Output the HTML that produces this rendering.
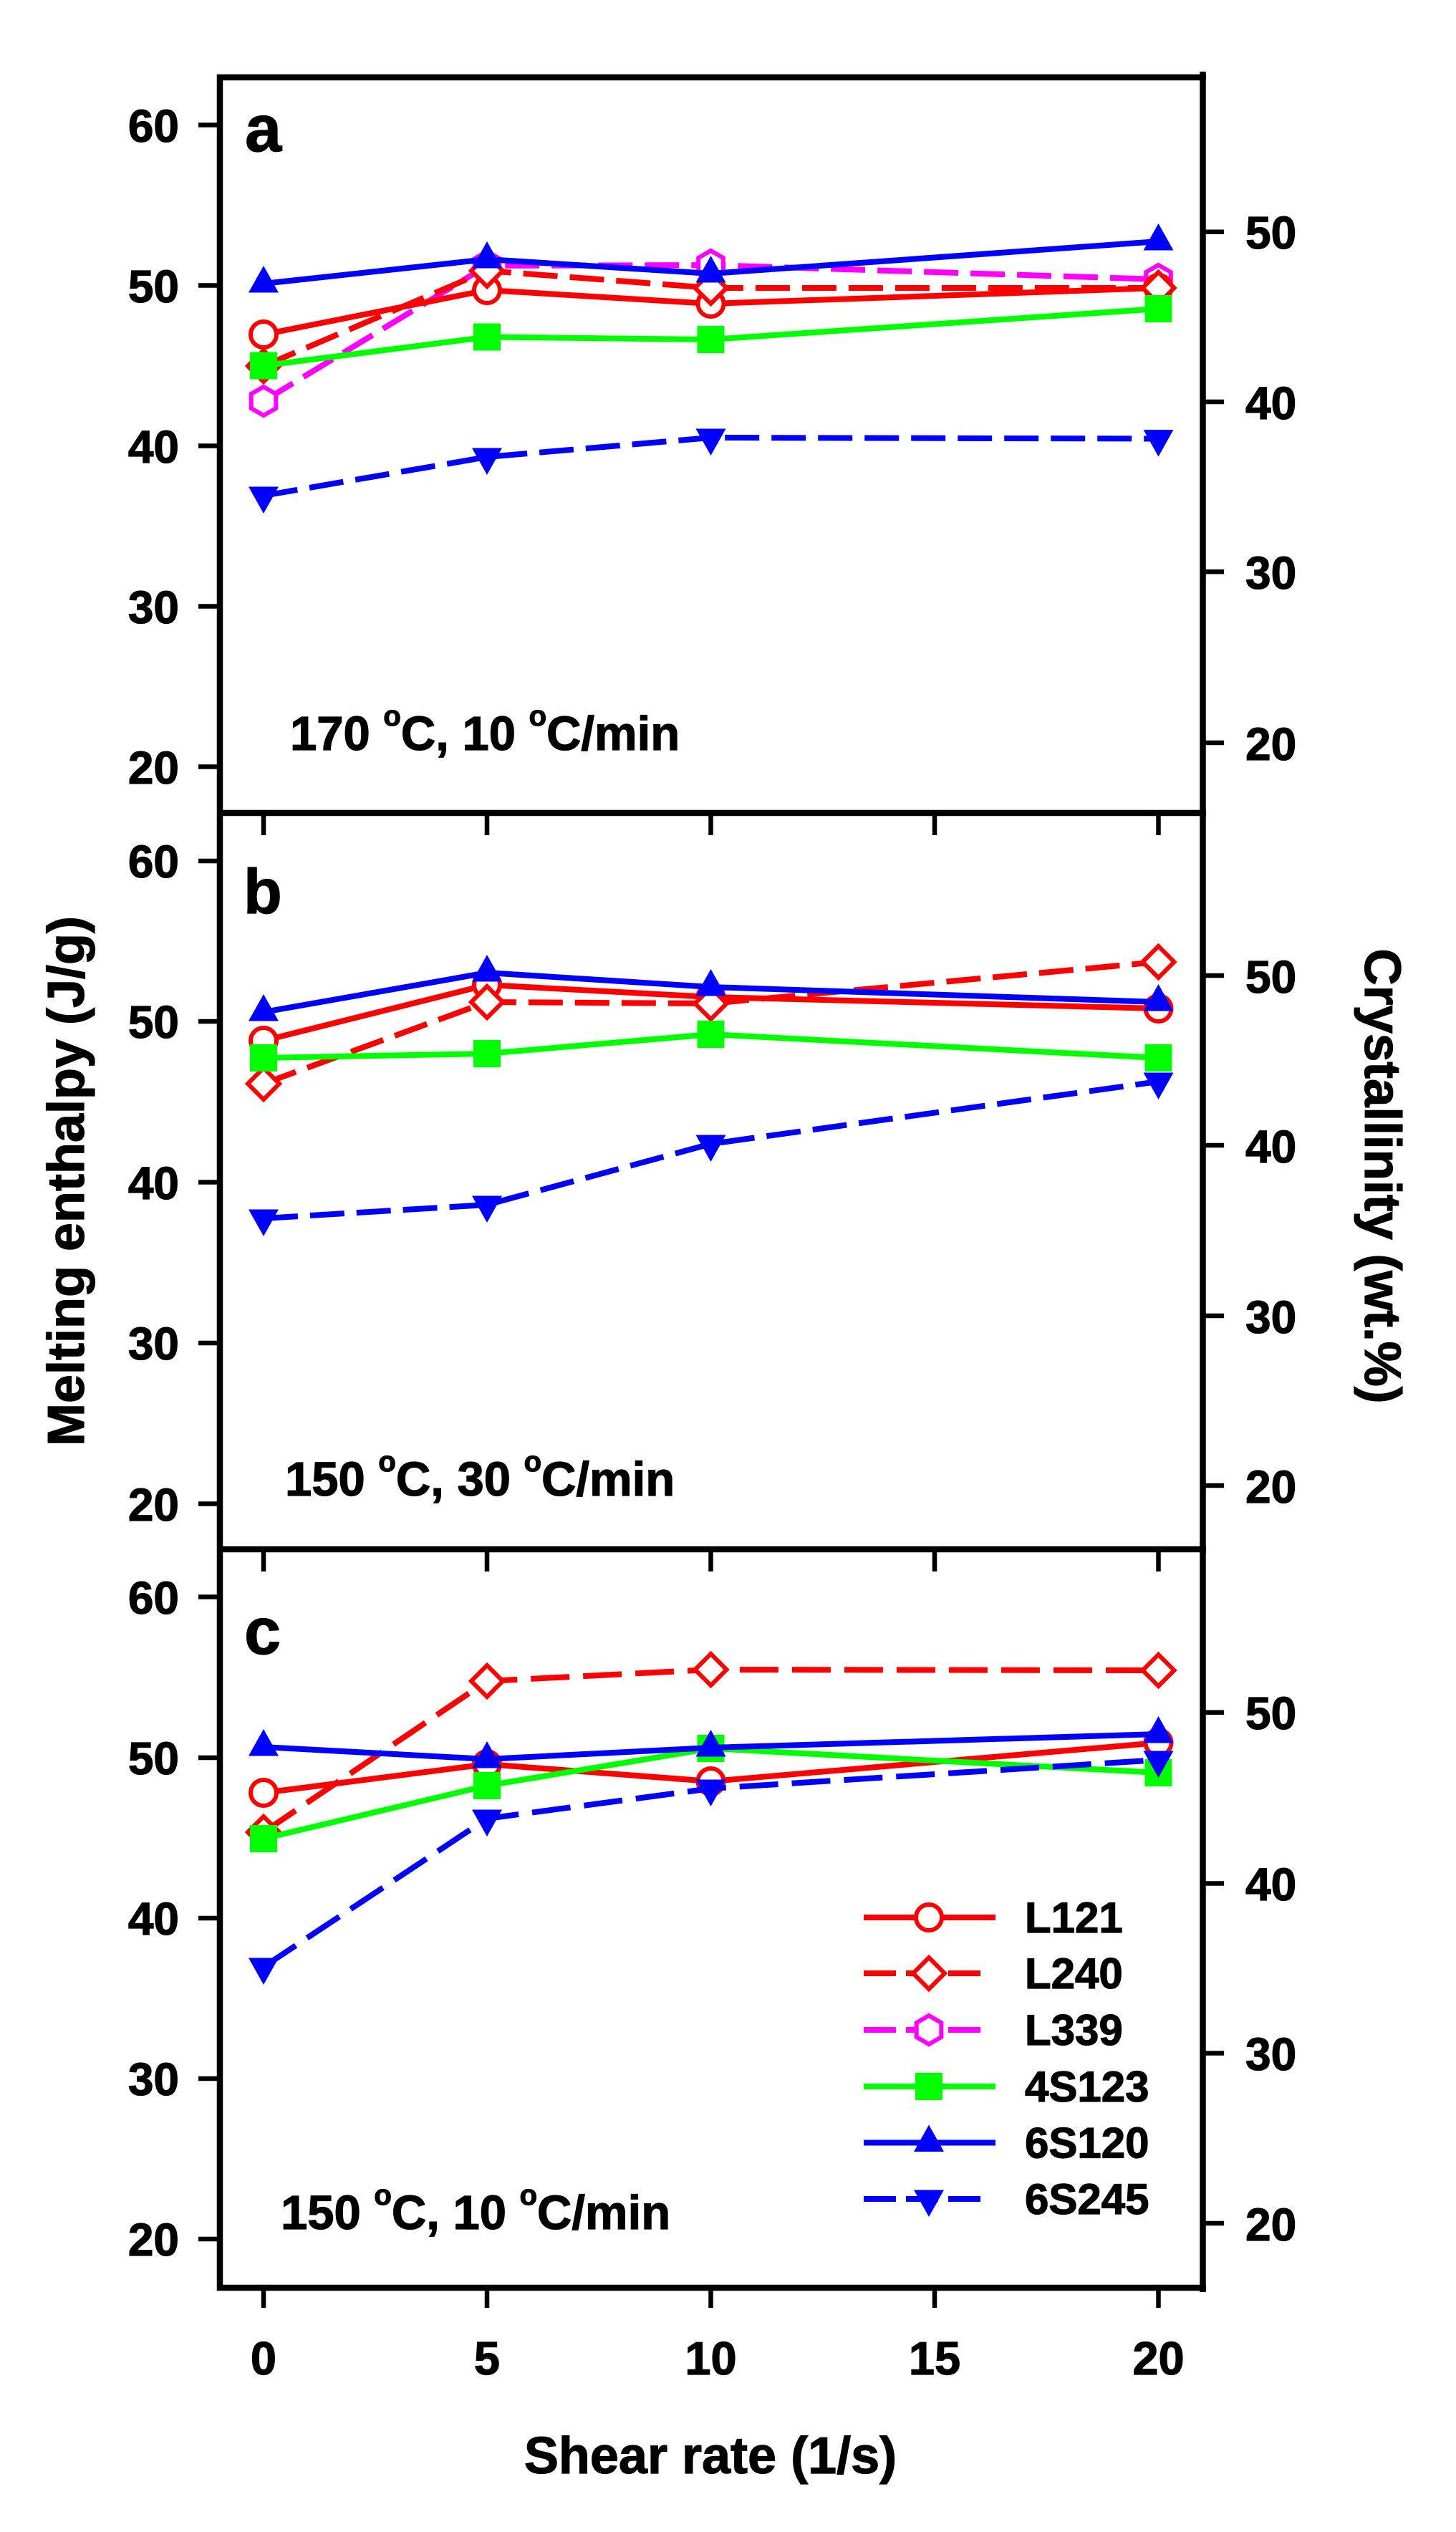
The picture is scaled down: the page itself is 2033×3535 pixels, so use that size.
<!DOCTYPE html>
<html>
<head>
<meta charset="utf-8">
<style>
html,body{margin:0;padding:0;background:#fff;}
svg{display:block;}
text{font-family:"Liberation Sans",Arial,sans-serif;font-weight:bold;fill:#000;stroke:#000;stroke-width:1.2;}
</style>
</head>
<body>
<svg width="2033" height="3535" viewBox="0 0 2033 3535" xmlns="http://www.w3.org/2000/svg">
<defs>
  <g id="circ"><circle cx="0" cy="0" r="18" fill="#fff" stroke="#ff0000" stroke-width="6"/></g>
  <g id="diam"><path d="M0,-22 L22,0 L0,22 L-22,0Z" fill="#fff" stroke="#ff0000" stroke-width="6" stroke-linejoin="miter"/></g>
  <g id="hex"><path d="M0,-20 L17.3,-10 L17.3,10 L0,20 L-17.3,10 L-17.3,-10Z" fill="#fff" stroke="#ff00ff" stroke-width="6"/></g>
  <g id="sq"><rect x="-19" y="-19" width="38" height="38" fill="#00ff00"/></g>
  <g id="triU"><path d="M0,-25 L21,12.5 L-21,12.5Z" fill="#0000ff"/></g>
  <g id="triD"><path d="M0,25 L21,-12.5 L-21,-12.5Z" fill="#0000ff"/></g>
</defs>

<rect x="0" y="0" width="2033" height="3535" fill="#fff"/>

<!-- ===== Frame ===== -->
<g stroke="#000" stroke-width="8.5" fill="none">
  <line x1="307" y1="104" x2="307" y2="3198"/>
  <line x1="1679.5" y1="100" x2="1679.5" y2="3200"/>
  <line x1="303" y1="108" x2="1684" y2="108"/>
  <line x1="303" y1="1135" x2="1684" y2="1135"/>
  <line x1="303" y1="2163" x2="1684" y2="2163"/>
  <line x1="303" y1="3194" x2="1684" y2="3194"/>
</g>

<!-- x ticks -->
<g stroke="#000" stroke-width="6.5">
  <line x1="368" y1="1138" x2="368" y2="1166"/><line x1="680" y1="1138" x2="680" y2="1166"/><line x1="992.5" y1="1138" x2="992.5" y2="1166"/><line x1="1305" y1="1138" x2="1305" y2="1166"/><line x1="1617.5" y1="1138" x2="1617.5" y2="1166"/>
  <line x1="368" y1="2166" x2="368" y2="2194"/><line x1="680" y1="2166" x2="680" y2="2194"/><line x1="992.5" y1="2166" x2="992.5" y2="2194"/><line x1="1305" y1="2166" x2="1305" y2="2194"/><line x1="1617.5" y1="2166" x2="1617.5" y2="2194"/>
  <line x1="368" y1="3197" x2="368" y2="3222"/><line x1="680" y1="3197" x2="680" y2="3222"/><line x1="992.5" y1="3197" x2="992.5" y2="3222"/><line x1="1305" y1="3197" x2="1305" y2="3222"/><line x1="1617.5" y1="3197" x2="1617.5" y2="3222"/>
</g>

<!-- left y ticks -->
<g stroke="#000" stroke-width="6.5">
  <line x1="277" y1="174.5" x2="307" y2="174.5"/><line x1="277" y1="398.5" x2="307" y2="398.5"/><line x1="277" y1="622.5" x2="307" y2="622.5"/><line x1="277" y1="846.5" x2="307" y2="846.5"/><line x1="277" y1="1070.5" x2="307" y2="1070.5"/>
  <line x1="277" y1="1202" x2="307" y2="1202"/><line x1="277" y1="1426" x2="307" y2="1426"/><line x1="277" y1="1650.5" x2="307" y2="1650.5"/><line x1="277" y1="1875" x2="307" y2="1875"/><line x1="277" y1="2099.5" x2="307" y2="2099.5"/>
  <line x1="277" y1="2229.5" x2="307" y2="2229.5"/><line x1="277" y1="2454" x2="307" y2="2454"/><line x1="277" y1="2678" x2="307" y2="2678"/><line x1="277" y1="2902" x2="307" y2="2902"/><line x1="277" y1="3126" x2="307" y2="3126"/>
</g>

<!-- right y ticks -->
<g stroke="#000" stroke-width="6.5">
  <line x1="1680" y1="323.7" x2="1709" y2="323.7"/><line x1="1680" y1="561" x2="1709" y2="561"/><line x1="1680" y1="798.3" x2="1709" y2="798.3"/><line x1="1680" y1="1037" x2="1709" y2="1037"/>
  <line x1="1680" y1="1362" x2="1709" y2="1362"/><line x1="1680" y1="1599" x2="1709" y2="1599"/><line x1="1680" y1="1837" x2="1709" y2="1837"/><line x1="1680" y1="2074" x2="1709" y2="2074"/>
  <line x1="1680" y1="2390.7" x2="1709" y2="2390.7"/><line x1="1680" y1="2629.5" x2="1709" y2="2629.5"/><line x1="1680" y1="2866.5" x2="1709" y2="2866.5"/><line x1="1680" y1="3104" x2="1709" y2="3104"/>
</g>

<!-- left tick labels -->
<g font-size="64" text-anchor="end">
  <text x="250" y="198">60</text><text x="250" y="422">50</text><text x="250" y="646">40</text><text x="250" y="870">30</text><text x="250" y="1094">20</text>
  <text x="250" y="1225">60</text><text x="250" y="1449">50</text><text x="250" y="1674">40</text><text x="250" y="1898">30</text><text x="250" y="2123">20</text>
  <text x="250" y="2253">60</text><text x="250" y="2477">50</text><text x="250" y="2701">40</text><text x="250" y="2925">30</text><text x="250" y="3149">20</text>
</g>

<!-- right tick labels -->
<g font-size="64" text-anchor="start">
  <text x="1739" y="347">50</text><text x="1739" y="585">40</text><text x="1739" y="822">30</text><text x="1739" y="1061">20</text>
  <text x="1739" y="1386">50</text><text x="1739" y="1623">40</text><text x="1739" y="1861">30</text><text x="1739" y="2098">20</text>
  <text x="1739" y="2414">50</text><text x="1739" y="2653">40</text><text x="1739" y="2890">30</text><text x="1739" y="3128">20</text>
</g>

<!-- x tick labels -->
<g font-size="65" text-anchor="middle">
  <text x="368" y="3315">0</text><text x="680" y="3315">5</text><text x="992.5" y="3315">10</text><text x="1305" y="3315">15</text><text x="1617.5" y="3315">20</text>
</g>

<!-- axis titles -->
<text x="992" y="3453" font-size="72" text-anchor="middle">Shear rate (1/s)</text>
<text transform="translate(117,1649) rotate(-90)" font-size="72" text-anchor="middle">Melting enthalpy (J/g)</text>
<text transform="translate(1906,1642) rotate(90)" font-size="71" text-anchor="middle">Crystallinity (wt.%)</text>

<!-- panel letters -->
<text x="342" y="211" font-size="92">a</text>
<text x="340" y="1275" font-size="88">b</text>
<text x="341" y="2309" font-size="92">c</text>

<!-- annotations -->
<text x="405" y="1047" font-size="67">170 <tspan font-size="40" dy="-34">o</tspan><tspan dy="34">C, 10 </tspan><tspan font-size="40" dy="-34">o</tspan><tspan dy="34">C/min</tspan></text>
<text x="398" y="2088" font-size="67">150 <tspan font-size="40" dy="-34">o</tspan><tspan dy="34">C, 30 </tspan><tspan font-size="40" dy="-34">o</tspan><tspan dy="34">C/min</tspan></text>
<text x="392" y="3112" font-size="67">150 <tspan font-size="40" dy="-34">o</tspan><tspan dy="34">C, 10 </tspan><tspan font-size="40" dy="-34">o</tspan><tspan dy="34">C/min</tspan></text>

<!-- ===== Panel a data ===== -->
<polyline points="368,560 680,371 992.5,370 1617.5,390" fill="none" stroke="#ff00ff" stroke-width="8" stroke-dasharray="48 17" stroke-linejoin="round"/>
<use href="#hex" x="368" y="560"/><use href="#hex" x="680" y="371"/><use href="#hex" x="992.5" y="370"/><use href="#hex" x="1617.5" y="390"/>
<polyline points="368,467 680,405 992.5,424 1617.5,402" fill="none" stroke="#ff0000" stroke-width="8" stroke-linejoin="round"/>
<use href="#circ" x="368" y="467"/><use href="#circ" x="680" y="405"/><use href="#circ" x="992.5" y="424"/><use href="#circ" x="1617.5" y="402"/>
<polyline points="368,511 680,378 992.5,402 1617.5,402" fill="none" stroke="#ff0000" stroke-width="8" stroke-dasharray="48 17" stroke-linejoin="round"/>
<use href="#diam" x="368" y="511"/><use href="#diam" x="680" y="378"/><use href="#diam" x="992.5" y="402"/><use href="#diam" x="1617.5" y="402"/>
<polyline points="368,510.5 680,470.5 992.5,474 1617.5,431" fill="none" stroke="#00ff00" stroke-width="8" stroke-linejoin="round"/>
<use href="#sq" x="368" y="510.5"/><use href="#sq" x="680" y="470.5"/><use href="#sq" x="992.5" y="474"/><use href="#sq" x="1617.5" y="431"/>
<polyline points="368,396 680,362 992.5,382 1617.5,337" fill="none" stroke="#0000ff" stroke-width="8" stroke-linejoin="round"/>
<use href="#triU" x="368" y="396"/><use href="#triU" x="680" y="362"/><use href="#triU" x="992.5" y="382"/><use href="#triU" x="1617.5" y="337"/>
<polyline points="368,692 680,638 992.5,611 1617.5,612.5" fill="none" stroke="#0000ff" stroke-width="8" stroke-dasharray="48 17" stroke-linejoin="round"/>
<use href="#triD" x="368" y="692"/><use href="#triD" x="680" y="638"/><use href="#triD" x="992.5" y="611"/><use href="#triD" x="1617.5" y="612.5"/>

<!-- ===== Panel b data ===== -->
<polyline points="368,1453 680,1375 992.5,1392 1617.5,1408" fill="none" stroke="#ff0000" stroke-width="8" stroke-linejoin="round"/>
<use href="#circ" x="368" y="1453"/><use href="#circ" x="680" y="1375"/><use href="#circ" x="992.5" y="1392"/><use href="#circ" x="1617.5" y="1408"/>
<polyline points="368,1513 680,1399 992.5,1401 1617.5,1343" fill="none" stroke="#ff0000" stroke-width="8" stroke-dasharray="48 17" stroke-linejoin="round"/>
<use href="#diam" x="368" y="1513"/><use href="#diam" x="680" y="1399"/><use href="#diam" x="992.5" y="1401"/><use href="#diam" x="1617.5" y="1343"/>
<polyline points="368,1477 680,1471 992.5,1444 1617.5,1477" fill="none" stroke="#00ff00" stroke-width="8" stroke-linejoin="round"/>
<use href="#sq" x="368" y="1477"/><use href="#sq" x="680" y="1471"/><use href="#sq" x="992.5" y="1444"/><use href="#sq" x="1617.5" y="1477"/>
<polyline points="368,1413 680,1358 992.5,1378 1617.5,1399" fill="none" stroke="#0000ff" stroke-width="8" stroke-linejoin="round"/>
<use href="#triU" x="368" y="1413"/><use href="#triU" x="680" y="1358"/><use href="#triU" x="992.5" y="1378"/><use href="#triU" x="1617.5" y="1399"/>
<polyline points="368,1701 680,1682 992.5,1597 1617.5,1510" fill="none" stroke="#0000ff" stroke-width="8" stroke-dasharray="48 17" stroke-linejoin="round"/>
<use href="#triD" x="368" y="1701"/><use href="#triD" x="680" y="1682"/><use href="#triD" x="992.5" y="1597"/><use href="#triD" x="1617.5" y="1510"/>

<!-- ===== Panel c data ===== -->
<polyline points="368,2503 680,2463 992.5,2487 1617.5,2433" fill="none" stroke="#ff0000" stroke-width="8" stroke-linejoin="round"/>
<use href="#circ" x="368" y="2503"/><use href="#circ" x="680" y="2463"/><use href="#circ" x="992.5" y="2487"/><use href="#circ" x="1617.5" y="2433"/>
<polyline points="368,2558 680,2347 992.5,2331 1617.5,2332" fill="none" stroke="#ff0000" stroke-width="8" stroke-dasharray="54 19" stroke-linejoin="round"/>
<use href="#diam" x="368" y="2558"/><use href="#diam" x="680" y="2347"/><use href="#diam" x="992.5" y="2331"/><use href="#diam" x="1617.5" y="2332"/>
<polyline points="368,2567 680,2493 992.5,2441 1617.5,2475" fill="none" stroke="#00ff00" stroke-width="8" stroke-linejoin="round"/>
<use href="#sq" x="368" y="2567"/><use href="#sq" x="680" y="2493"/><use href="#sq" x="992.5" y="2441"/><use href="#sq" x="1617.5" y="2475"/>
<polyline points="368,2439 680,2456 992.5,2440 1617.5,2421" fill="none" stroke="#0000ff" stroke-width="8" stroke-linejoin="round"/>
<use href="#triU" x="368" y="2439"/><use href="#triU" x="680" y="2456"/><use href="#triU" x="992.5" y="2440"/><use href="#triU" x="1617.5" y="2421"/>
<polyline points="368,2746 680,2539 992.5,2497 1617.5,2457" fill="none" stroke="#0000ff" stroke-width="8" stroke-dasharray="54 19" stroke-linejoin="round"/>
<use href="#triD" x="368" y="2746"/><use href="#triD" x="680" y="2539"/><use href="#triD" x="992.5" y="2497"/><use href="#triD" x="1617.5" y="2457"/>

<!-- ===== Legend ===== -->
<g stroke-width="8" fill="none">
  <line x1="1206" y1="2677" x2="1390" y2="2677" stroke="#ff0000"/>
  <line x1="1206" y1="2755" x2="1370" y2="2755" stroke="#ff0000" stroke-dasharray="45 14"/>
  <line x1="1206" y1="2834" x2="1370" y2="2834" stroke="#ff00ff" stroke-dasharray="45 14"/>
  <line x1="1206" y1="2913" x2="1390" y2="2913" stroke="#00ff00"/>
  <line x1="1206" y1="2991.5" x2="1390" y2="2991.5" stroke="#0000ff"/>
  <line x1="1206" y1="3070" x2="1370" y2="3070" stroke="#0000ff" stroke-dasharray="45 14"/>
</g>
<use href="#circ" x="1297" y="2677"/>
<use href="#diam" x="1297" y="2755"/>
<use href="#hex" x="1297" y="2834"/>
<use href="#sq" x="1297" y="2913"/>
<use href="#triU" x="1297" y="2991.5"/>
<use href="#triD" x="1297" y="3070"/>
<g font-size="60">
  <text x="1431" y="2698">L121</text>
  <text x="1431" y="2776">L240</text>
  <text x="1431" y="2855">L339</text>
  <text x="1431" y="2934">4S123</text>
  <text x="1431" y="3012.5">6S120</text>
  <text x="1431" y="3091">6S245</text>
</g>
</svg>
</body>
</html>
